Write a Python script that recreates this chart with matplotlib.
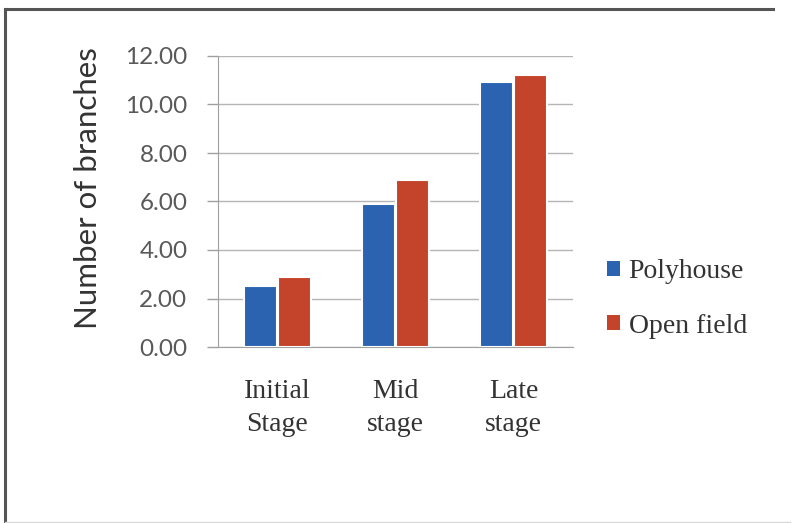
import matplotlib
matplotlib.use("Agg")
import matplotlib.pyplot as plt
from matplotlib.lines import Line2D
from matplotlib.patches import Patch
import numpy as np

# growth stages and mean branch counts
stages = ["Initial\nStage", "Mid\nstage", "Late\nstage"]
polyhouse = [2.53, 5.90, 10.93]
open_field = [2.90, 6.90, 11.20]
series_names = ["Polyhouse", "Open field"]
yticks = [0, 2, 4, 6, 8, 10, 12]

blue = "#2b63b0"
red = "#c3432b"

W, H = 793, 523
fig = plt.figure(figsize=(W / 100, H / 100), dpi=100)
fig.patch.set_facecolor("white")

ax = fig.add_axes([218 / W, 1 - 347 / H, (573 - 218) / W, (347 - 56) / H])

x = np.arange(len(stages))
off = 0.144
bw = 0.28
ax.bar(x - off, polyhouse, bw, color=blue, edgecolor="white", linewidth=1.5, zorder=3)
ax.bar(x + off, open_field, bw, color=red, edgecolor="white", linewidth=1.5, zorder=3)

ax.set_xlim(-0.5, 2.5)
ax.set_ylim(0, 12)
ax.set_yticks(yticks)
ax.set_yticklabels([f"{v:.2f}" for v in yticks], fontfamily="Lato", fontsize=17.5, color="#595959")
ax.yaxis.grid(True, color="#b5b5b5", linewidth=1, zorder=0)
ax.set_axisbelow(True)

ax.set_xticks(x)
ax.set_xticklabels(stages, fontfamily="Liberation Serif", fontsize=20, color="#333333",
                   linespacing=1.4)
ax.tick_params(axis="x", length=0, pad=23)
ax.tick_params(axis="y", length=8, color="#a0a0a0", width=1, pad=14)

for s in ["top", "right"]:
    ax.spines[s].set_visible(False)
ax.spines["left"].set_color("#a0a0a0")
ax.spines["bottom"].set_color("#a0a0a0")

ax.set_ylabel("Number of branches", fontfamily="Lato", fontsize=22.5, color="#333333")
ax.yaxis.set_label_coords(-0.328, 0.545)

handles = [Patch(facecolor=blue, edgecolor="none"), Patch(facecolor=red, edgecolor="none")]
fig.legend(handles, series_names, loc="center left", bbox_to_anchor=(607 / W, 1 - 299 / H),
           frameon=False, prop={"family": "Liberation Serif", "size": 20},
           borderpad=0, borderaxespad=0,
           handlelength=0.48, handleheight=0.48, handletextpad=0.3, labelspacing=1.05,
           labelcolor="#333333")

# outer frame
fig.add_artist(Line2D([5 / W, 773 / W], [1 - 9 / H, 1 - 9 / H], color="#555555", linewidth=2.2))
fig.add_artist(Line2D([5 / W, 5 / W], [0, 1 - 9 / H], color="#555555", linewidth=2.2))
fig.add_artist(Line2D([5 / W, 790 / W], [1.5 / H, 1.5 / H], color="#d8d8d8", linewidth=1))

fig.savefig("out.png", dpi=100)
